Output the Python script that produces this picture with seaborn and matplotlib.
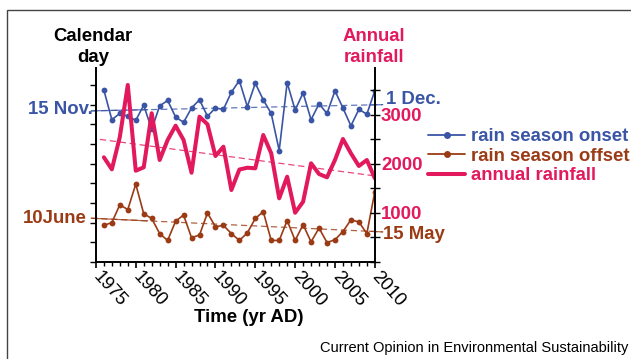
import numpy as np
import pandas as pd
import matplotlib
matplotlib.use('Agg')
import matplotlib.pyplot as plt
from matplotlib.lines import Line2D
from matplotlib.patches import Rectangle
from matplotlib.ticker import FixedLocator, MultipleLocator
import seaborn as sns

# --- data ---
years = list(range(1976, 2011))
onset_day = [345, 302, 311, 307, 301, 323, 288, 322, 330, 306,
             298, 319, 331, 307, 319, 317, 342, 359, 321, 355,
             331, 311, 257, 356, 316, 341, 302, 325, 311, 344,
             319, 293, 317, 310, 344]
offset_day = [148, 152, 178, 171, 208, 165, 158, 136, 126, 154,
              163, 130, 134, 166, 146, 148, 136, 126, 137, 158,
              168, 126, 126, 155, 126, 149, 124, 144, 123, 127,
              139, 156, 153, 136, 197]
rainfall_mm = [2131, 1886, 2544, 3602, 1858, 1927, 3026, 2076, 2483, 2774,
               2483, 1817, 2957, 2802, 2157, 2346, 1465, 1882, 1919, 1907,
               2584, 2212, 1296, 1736, 1003, 1227, 2009, 1791, 1724, 2076,
               2503, 2212, 1954, 2076, 1703]

# day-of-year labels written on the calendar axis
left_labels = ['15 Nov.', '10June']
left_label_days = [317, 158]
right_labels = ['1 Dec.', '15 May']
right_label_days = [332, 135]
rain_ticklabels = ['1000', '2000', '3000']

blue = '#3a55a5'
brown = '#9b3b16'
red = '#e2195c'

df = pd.DataFrame({'year': years, 'onset': onset_day,
                   'offset': offset_day, 'rain': rainfall_mm})

sns.set_theme(style='ticks')
plt.rcParams['font.family'] = ['Liberation Sans', 'DejaVu Sans']
plt.rcParams['text.color'] = 'black'

fig = plt.figure(figsize=(6.31, 3.59), dpi=100)
ax = fig.add_axes([0.152, 0.270, 0.442, 0.541])
ax2 = ax.twinx()

# series
sns.lineplot(data=df, x='year', y='offset', ax=ax, color=brown, marker='o',
             markersize=4.2, markeredgewidth=0, linewidth=1.2, legend=False)
sns.lineplot(data=df, x='year', y='onset', ax=ax, color=blue, marker='o',
             markersize=4.2, markeredgewidth=0, linewidth=1.2, legend=False)
sns.lineplot(data=df, x='year', y='rain', ax=ax2, color=red,
             linewidth=2.9, legend=False)

# linear trends
def fit(col):
    k, b = np.polyfit(df['year'], df[col], 1)
    return lambda x: k * np.asarray(x) + b

for col, c in [('onset', blue), ('offset', brown)]:
    f = fit(col)
    xs = np.array([1974.4, 2011.0])
    ax.plot(xs, f(xs), color=c, lw=0.9, ls=(0, (5, 3)), alpha=0.8, clip_on=False)
    for seg in ([1974.4, 1981.5], [2009.3, 2011.0]):
        ax.plot(seg, f(seg), color=c, lw=0.9, alpha=0.8, clip_on=False)

fr = fit('rain')
xr = np.array([1975.5, 2010.0])
ax2.plot(xr, fr(xr), color=red, lw=0.9, ls=(0, (5, 3)), alpha=0.8)

# axes styling
ax.set_xlim(1975, 2010)
ax.set_ylim(94.5, 377.5)
ax2.set_ylim(0, 3950)
ax.set_xlabel('')
ax.set_ylabel('')
ax2.set_ylabel('')

for a in (ax, ax2):
    a.spines['top'].set_visible(False)
    a.grid(False)
ax.spines['right'].set_visible(False)
ax2.spines['left'].set_visible(False)
ax2.spines['bottom'].set_visible(False)
for s in ('left', 'bottom'):
    ax.spines[s].set_linewidth(1.4)
    ax.spines[s].set_color('black')
ax2.spines['right'].set_linewidth(1.4)
ax2.spines['right'].set_color('black')

ax.xaxis.set_major_locator(MultipleLocator(5))
ax.xaxis.set_minor_locator(MultipleLocator(1))
ax.tick_params(axis='x', which='major', direction='out', length=4, width=1.2,
               color='black', labelsize=13.2, pad=4.5, labelcolor='black')
ax.tick_params(axis='x', which='minor', direction='out', length=3, width=1.0,
               color='black')
for lab in ax.get_xticklabels():
    lab.set_rotation(-48)
    lab.set_ha('left')
    lab.set_va('center')
    lab.set_rotation_mode('anchor')

ax.yaxis.set_major_locator(FixedLocator(np.linspace(94.5, 352.5, 10)))
ax.set_yticklabels([])
ax.tick_params(axis='y', direction='out', length=4, width=1.0, color='black')

ax2.set_yticks(np.arange(0, 3600, 500))
ax2.set_yticklabels(['', '', rain_ticklabels[0], '', rain_ticklabels[1], '',
                     rain_ticklabels[2], ''])
ax2.tick_params(axis='y', direction='inout', length=7, width=1.0, color='black',
                labelsize=13.4, labelcolor=red, pad=1)
for lab in ax2.get_yticklabels():
    lab.set_fontweight('bold')

# date labels on the calendar axis
bold = dict(fontsize=13.4, fontweight='bold')
for txt, d, c in zip(left_labels, left_label_days, [blue, brown]):
    ax.text(1974.6 if c == blue else 1973.9, d, txt, color=c, ha='right',
            va='center', clip_on=False, **bold)
for txt, d, c in zip(right_labels, right_label_days, [blue, brown]):
    ax.text(2011.4 if c == blue else 2011.0, d, txt, color=c, ha='left',
            va='center', clip_on=False, **bold)

# axis titles
fig.text(93 / 631, 1 - 47 / 359, 'Calendar\nday', ha='center', va='center',
         color='black', linespacing=1.25, **bold)
fig.text(374 / 631, 1 - 47 / 359, 'Annual\nrainfall', ha='center', va='center',
         color=red, linespacing=1.25, **bold)
fig.text(249 / 631, 1 - 317 / 359, 'Time (yr AD)', ha='center', va='center',
         color='black', **bold)
fig.text(628 / 631, 1 - 348 / 359, 'Current Opinion in Environmental Sustainability',
         ha='right', va='center', fontsize=10.5, color='black')

# legend
handles = [Line2D([], [], color=blue, marker='o', markersize=5, markeredgewidth=0, lw=1.3),
           Line2D([], [], color=brown, marker='o', markersize=5, markeredgewidth=0, lw=1.3),
           Line2D([], [], color=red, lw=2.9)]
leg = fig.legend(handles, ['rain season onset', 'rain season offset', 'annual rainfall'],
                 loc='upper left', bbox_to_anchor=(428 / 631, 1 - 128 / 359),
                 frameon=False, borderpad=0, borderaxespad=0, handlelength=2.0,
                 handletextpad=0.3, labelspacing=0.14,
                 prop={'size': 13.4, 'weight': 'bold'},
                 labelcolor=[blue, brown, red])

# frame around the panel (left and top edges visible)
fig.patches.append(Rectangle((7 / 631, -0.1), 1.2, 1.072, transform=fig.transFigure,
                             fill=False, edgecolor='#444444', lw=1.0, figure=fig))

fig.savefig('out.png', dpi=100)
